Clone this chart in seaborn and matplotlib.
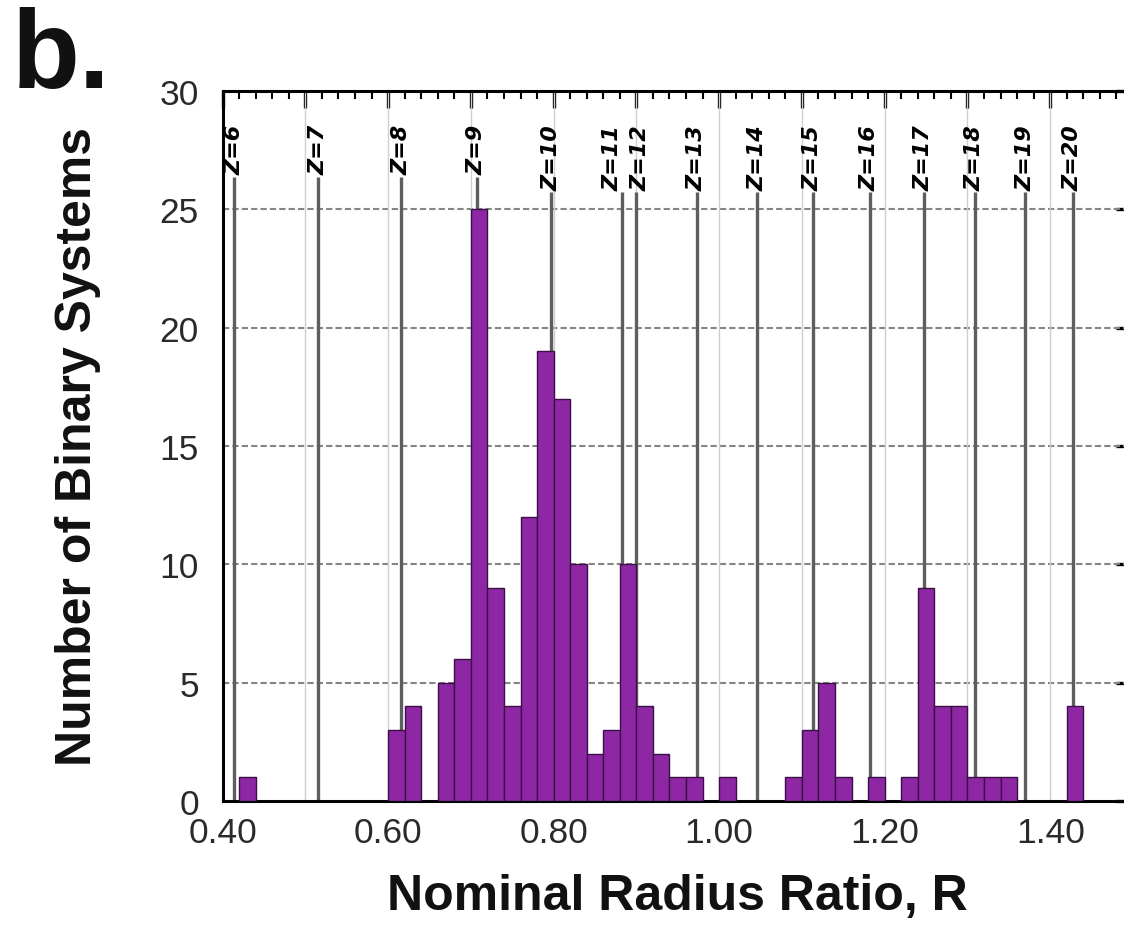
import numpy as np
import pandas as pd
import matplotlib
matplotlib.use("Agg")
import matplotlib.pyplot as plt
from matplotlib.ticker import MultipleLocator, FuncFormatter
import seaborn as sns

# ---- data ----
bin_starts = [0.42, 0.60, 0.62, 0.66, 0.68, 0.70, 0.72, 0.74, 0.76, 0.78, 0.80,
              0.82, 0.84, 0.86, 0.88, 0.90, 0.92, 0.94, 0.96, 1.00, 1.08, 1.10,
              1.12, 1.14, 1.18, 1.22, 1.24, 1.26, 1.28, 1.30, 1.32, 1.34, 1.42]
counts = [1, 3, 4, 5, 6, 25, 9, 4, 12, 19, 17,
          10, 2, 3, 10, 4, 2, 1, 1, 1, 1, 3,
          5, 1, 1, 1, 9, 4, 4, 1, 1, 1, 4]
bin_width = 0.02

z_labels = ["Z=6", "Z=7", "Z=8", "Z=9", "Z=10", "Z=11", "Z=12", "Z=13",
            "Z=14", "Z=15", "Z=16", "Z=17", "Z=18", "Z=19", "Z=20"]
z_positions = [0.414, 0.5155, 0.616, 0.707, 0.797, 0.883, 0.900, 0.973,
               1.046, 1.113, 1.182, 1.247, 1.309, 1.370, 1.427]
# label centres (the Z=11 / Z=12 labels are spread apart in the reference)
z_label_x = [0.414, 0.5155, 0.616, 0.707, 0.797, 0.8715, 0.9045, 0.973,
             1.046, 1.113, 1.182, 1.247, 1.309, 1.370, 1.427]

x_ticks = [0.40, 0.60, 0.80, 1.00, 1.20, 1.40]
y_ticks = [0, 5, 10, 15, 20, 25, 30]

sns.set_style("white")
plt.rcParams['font.family'] = ['Liberation Sans', 'DejaVu Sans']

df = pd.DataFrame({"R": np.array(bin_starts) + bin_width / 2,
                   "n": np.array(counts, dtype=float)})

fig = plt.figure(figsize=(11.24, 9.29), dpi=100)
ax = fig.add_axes([0.198, 0.1367, 0.81, 0.7643])

sns.histplot(data=df, x="R", weights="n", binwidth=bin_width,
             binrange=(0.40, 1.50), ax=ax,
             color="#8E27A4", edgecolor="#3A0F45", linewidth=1.0,
             alpha=1.0, zorder=3)

ax.set_xlim(0.40, 1.50)
ax.set_ylim(0, 30)

# grid
for yv in y_ticks[1:-1]:
    ax.axhline(yv, color="#858585", lw=1.5, ls=(0, (3, 1.5)), zorder=1)
for xv in np.arange(0.50, 1.50, 0.10):
    ax.axvline(xv, color="#cfcfcf", lw=1.0, zorder=1)

# Z labels, then lines that stop just below each label
label_top = 28.6
texts = []
for lab, xl in zip(z_labels, z_label_x):
    t = ax.text(xl, label_top, lab, rotation=90, ha="center", va="top",
                fontsize=16, fontweight="bold", fontstyle="italic", color="black",
                family=["DejaVu Sans"], zorder=4)
    texts.append(t)
fig.canvas.draw()
renderer = fig.canvas.get_renderer()
inv = ax.transData.inverted()
for t, xp in zip(texts, z_positions):
    bb = t.get_window_extent(renderer)
    y_bottom = inv.transform((bb.x0, bb.y0))[1] - 0.1
    ax.plot([xp, xp], [0, y_bottom], color="#5e5e5e", lw=2.4, zorder=2,
            solid_capstyle="butt")

# ticks
ax.xaxis.set_major_locator(MultipleLocator(0.10))
ax.xaxis.set_minor_locator(MultipleLocator(0.02))
ax.xaxis.set_major_formatter(FuncFormatter(
    lambda v, p: f"{v:.2f}" if any(abs(v - t) < 1e-6 for t in x_ticks) else ""))
ax.set_yticks(y_ticks)
ax.yaxis.set_minor_locator(MultipleLocator(1))
ax.tick_params(axis="both", which="major", direction="in", length=12, width=2.4,
               top=True, right=True, labelsize=25.5, color="black",
               labelcolor="#2a2a2a")
ax.tick_params(axis="x", which="major", pad=11)
ax.tick_params(axis="y", which="major", pad=17)
ax.tick_params(axis="both", which="minor", direction="in", length=6, width=1.5,
               top=True, right=True, color="black")
for s in ax.spines.values():
    s.set_linewidth(2.2)
    s.set_color("black")

ax.set_xlabel("Nominal Radius Ratio, R", fontsize=36, fontweight="bold",
              color="#111111")
ax.set_ylabel("Number of Binary Systems", fontsize=36, fontweight="bold",
              color="#111111")
ax.xaxis.set_label_coords(0.5, -0.102)
ax.yaxis.set_label_coords(-0.134, 0.5)

fig.text(0.010, 0.992, "b.", fontsize=80, fontweight="bold", ha="left", va="top",
         color="#111111")

fig.savefig("out.png", dpi=100)
